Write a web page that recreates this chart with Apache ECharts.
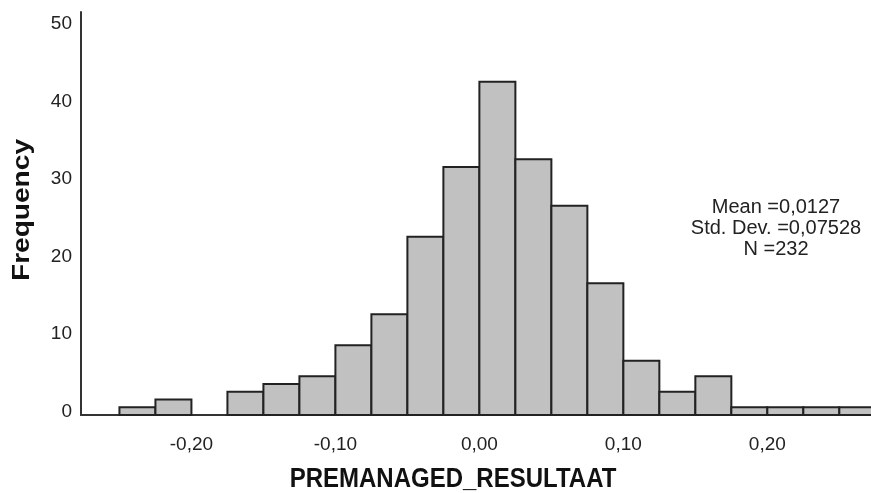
<!DOCTYPE html>
<html lang="en">
<head>
    <meta charset="UTF-8">
    <title>PREMANAGED_RESULTAAT</title>
    <style>
        html, body { margin: 0; padding: 0; background: #fff; }
        #chart { width: 871px; height: 493px; }
    </style>
</head>
<body>
    <div id="chart"></div>
</body>
<script src="https://cdn.jsdelivr.net/npm/echarts@6/dist/echarts.min.js"></script>
<script>
    // bin lower edges (width 0.025) and counts
    const binStart = [-0.25, -0.225, -0.2, -0.175, -0.15, -0.125, -0.1, -0.075, -0.05, -0.025,
        0, 0.025, 0.05, 0.075, 0.1, 0.125, 0.15, 0.175, 0.2, 0.225, 0.25];
    const counts = [1, 2, 0, 3, 4, 5, 9, 13, 23, 32, 43, 33, 27, 17, 7, 3, 5, 1, 1, 1, 1];
    const binWidth = 0.025;
    const xTicks = [-0.2, -0.1, 0, 0.1, 0.2];
    const statLines = ['Mean =0,0127', 'Std. Dev. =0,07528', 'N =232'];

    const font = '"Liberation Sans", Arial, sans-serif';
    const stretch = 1.17; // axis titles are a bit taller than wide in the reference
    const chart = echarts.init(document.getElementById('chart'));

    chart.setOption({
        animation: false,
        grid: { left: 81, right: 0, top: 12, bottom: 78 },
        xAxis: {
            type: 'value',
            min: -0.2767,
            max: 0.272,
            axisLine: { onZero: false, lineStyle: { color: '#333', width: 2 } },
            axisTick: { show: false },
            splitLine: { show: false },
            axisLabel: {
                margin: 20, fontSize: 19, color: '#222', fontFamily: font,
                customValues: xTicks,
                formatter: v => v.toFixed(2).replace('.', ',')
            }
        },
        yAxis: {
            type: 'value',
            min: 0,
            max: 52,
            interval: 10,
            axisLine: { show: true, onZero: false, lineStyle: { color: '#333', width: 2 } },
            axisTick: { show: false },
            splitLine: { show: false },
            axisLabel: {
                showMaxLabel: false,
                margin: 9, fontSize: 19, color: '#222', fontFamily: font,
                verticalAlign: 'bottom', lineHeight: 7
            }
        },
        series: [{
            type: 'custom',
            data: binStart.map((s, i) => [s, counts[i]]),
            renderItem: function (params, api) {
                const lo = api.value(0);
                const c = api.value(1);
                if (!c) return null;
                const p1 = api.coord([lo, c]);
                const p2 = api.coord([lo + binWidth, 0]);
                return {
                    type: 'rect',
                    shape: { x: p1[0], y: p1[1], width: p2[0] - p1[0], height: p2[1] - p1[1] },
                    style: { fill: '#c1c1c1', stroke: '#222', lineWidth: 2 }
                };
            }
        }],
        graphic: [
            {
                type: 'text', x: 22, y: 210, rotation: Math.PI / 2, scaleX: stretch,
                style: {
                    text: 'Frequency', font: 'bold 24px ' + font, fill: '#111',
                    align: 'center', verticalAlign: 'middle'
                }
            },
            {
                type: 'text', x: 453, y: 479, scaleY: stretch,
                style: {
                    text: 'PREMANAGED_RESULTAAT', font: 'bold 24px ' + font, fill: '#111',
                    align: 'center', verticalAlign: 'middle'
                }
            },
            {
                type: 'text', x: 776, y: 196.5,
                style: {
                    text: statLines.join('\n'), font: '20px ' + font, fill: '#222',
                    align: 'center', verticalAlign: 'top', lineHeight: 21
                }
            }
        ]
    });
</script>
</html>
